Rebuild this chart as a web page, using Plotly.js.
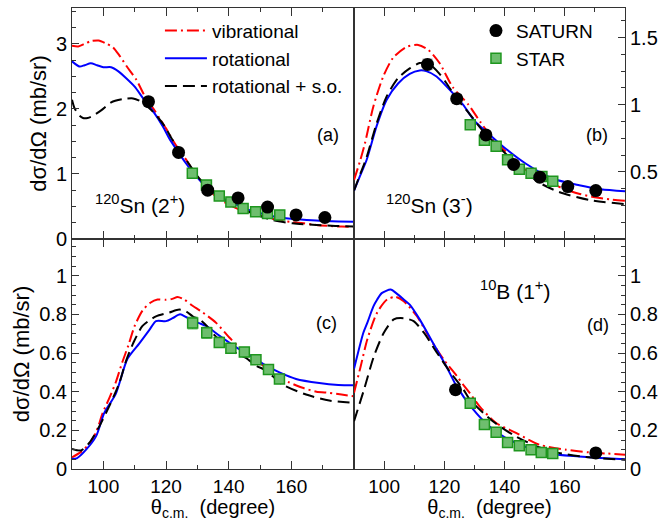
<!DOCTYPE html>
<html>
<head>
<meta charset="utf-8">
<script src="https://cdn.plot.ly/plotly-3.0.1.min.js"></script>
<style>html,body{margin:0;padding:0;background:#fff;}#plot{width:659px;height:521px;}</style>
</head>
<body>
<div id="plot"></div>
<script>
// ---------- Panel (a): 120Sn (2+) ----------
const vibA_th = [90, 92, 94, 96, 98.5, 101, 103, 105, 107.5, 110.5, 113.5, 116, 118, 120, 122, 124, 126.4, 128.5, 130.6, 133, 136, 138.5, 141.3, 144, 147.6, 151, 154, 157, 160.4, 164, 168, 172, 176, 180];
const vibA_v  = [2.97, 2.96, 3.0, 3.04, 3.05, 3.0, 2.95, 2.83, 2.65, 2.45, 2.17, 2.0, 1.85, 1.70, 1.53, 1.38, 1.22, 1.06, 0.92, 0.79, 0.65, 0.57, 0.50, 0.44, 0.39, 0.35, 0.31, 0.28, 0.26, 0.24, 0.215, 0.2, 0.19, 0.185];
const rotA_th = [90, 92.4, 94, 96, 98, 100, 102.5, 104.7, 107.3, 110, 112.7, 115.9, 119, 121, 123, 126.4, 129, 132.8, 136, 141.3, 145, 149.8, 154, 158.3, 163, 169, 175, 180];
const rotA_v  = [2.73, 2.65, 2.67, 2.70, 2.67, 2.64, 2.64, 2.58, 2.47, 2.34, 2.16, 1.96, 1.73, 1.55, 1.40, 1.16, 1.0, 0.80, 0.68, 0.55, 0.47, 0.40, 0.35, 0.32, 0.30, 0.28, 0.27, 0.265];
const soA_th  = [90, 90.8, 92.3, 93.5, 95, 96.2, 99.4, 102.5, 106.3, 109.5, 112.1, 115.3, 117.9, 119.6, 122.1, 126.4, 130.6, 136, 141.3, 147.6, 154, 160.4, 167.9, 174, 180];
const soA_v   = [2.14, 2.01, 1.90, 1.86, 1.86, 1.88, 1.98, 2.10, 2.15, 2.16, 2.11, 1.98, 1.84, 1.73, 1.52, 1.22, 0.93, 0.68, 0.52, 0.395, 0.29, 0.24, 0.215, 0.2, 0.19];
const satA_th = [114.4, 124.0, 133.3, 143.0, 152.4, 161.5, 170.7];
const satA_v  = [2.11, 1.33, 0.75, 0.63, 0.49, 0.37, 0.33];
const starA_th = [128.4, 132.9, 137.0, 140.7, 144.6, 148.6, 152.4, 156.3];
const starA_v  = [1.01, 0.83, 0.66, 0.57, 0.47, 0.42, 0.39, 0.37];

// ---------- Panel (b): 120Sn (3-) ----------
const vibB_th = [90, 92, 93.6, 96.4, 99.7, 103, 107.4, 111.3, 114.6, 118.4, 122.8, 128, 132, 136, 140, 144, 148, 152, 156, 160, 165, 170, 175, 180];
const vibB_v  = [0.44, 0.58, 0.71, 0.985, 1.21, 1.35, 1.43, 1.445, 1.41, 1.31, 1.13, 1.0, 0.87, 0.75, 0.66, 0.57, 0.50, 0.45, 0.41, 0.37, 0.335, 0.31, 0.295, 0.285];
const rotB_th = [90, 92, 94.2, 97.5, 100.8, 104.7, 108.5, 111.8, 114, 117.4, 121.8, 126.2, 130, 133.9, 140.5, 147.1, 155.9, 164.8, 172, 180];
const rotB_v  = [0.36, 0.47, 0.59, 0.84, 1.035, 1.16, 1.23, 1.255, 1.25, 1.21, 1.11, 1.0, 0.88, 0.80, 0.67, 0.56, 0.45, 0.40, 0.37, 0.355];
const soB_th  = [90, 92, 94.2, 97.5, 100.8, 104.7, 108.5, 111.8, 115.1, 118.4, 120.7, 124, 128.4, 133, 138.3, 144.9, 151.5, 158.1, 168.1, 180];
const soB_v   = [0.36, 0.48, 0.61, 0.86, 1.06, 1.20, 1.27, 1.31, 1.30, 1.23, 1.16, 1.05, 0.93, 0.80, 0.68, 0.54, 0.42, 0.35, 0.29, 0.26];
const satB_th = [114.4, 124.1, 133.8, 143.0, 151.7, 161.0, 170.3];
const satB_v  = [1.30, 1.045, 0.775, 0.555, 0.46, 0.39, 0.36];
const starB_th = [128.6, 133.3, 137.2, 141.0, 144.9, 148.8, 152.4, 156.0];
const starB_v  = [0.85, 0.735, 0.69, 0.59, 0.52, 0.49, 0.465, 0.43];

// ---------- Panel (c) ----------
const vibC_th = [90, 93, 95.5, 97.7, 99.8, 102, 104, 106, 108, 110, 112.5, 115, 117.3, 120, 122, 123.7, 125.8, 128, 131.7, 136, 140.2, 144, 148.7, 152, 155.1, 159, 163.6, 168, 172.1, 176, 180];
const vibC_v  = [0.06, 0.09, 0.13, 0.19, 0.29, 0.37, 0.45, 0.55, 0.64, 0.74, 0.82, 0.86, 0.877, 0.875, 0.88, 0.89, 0.877, 0.85, 0.81, 0.756, 0.68, 0.62, 0.566, 0.52, 0.48, 0.45, 0.42, 0.40, 0.394, 0.385, 0.376];
const rotC_th = [90, 91.5, 94.5, 97.7, 100.3, 104, 107.7, 111.5, 114.7, 116.8, 120, 122.1, 124.5, 126.5, 128.5, 130.5, 132.8, 137, 142.3, 146.6, 151.4, 156.2, 161.5, 168.9, 175, 180];
const rotC_v  = [0.052, 0.055, 0.10, 0.17, 0.29, 0.39, 0.57, 0.65, 0.72, 0.765, 0.765, 0.78, 0.80, 0.785, 0.77, 0.755, 0.74, 0.69, 0.63, 0.59, 0.54, 0.50, 0.466, 0.445, 0.435, 0.433];
const soC_th  = [90, 92.9, 95.5, 98.7, 101.9, 105.1, 107.2, 109.5, 112.5, 116.8, 121.1, 124.2, 126.4, 128.5, 131, 133, 135, 137, 140.2, 142.3, 145.5, 148.7, 151.9, 157.2, 164.7, 172.1, 180];
const soC_v   = [0.104, 0.096, 0.135, 0.22, 0.325, 0.445, 0.557, 0.65, 0.74, 0.79, 0.81, 0.825, 0.815, 0.79, 0.77, 0.74, 0.70, 0.67, 0.64, 0.60, 0.575, 0.535, 0.51, 0.437, 0.385, 0.354, 0.342];
const starC_th = [128.5, 133.0, 137.0, 140.7, 145.0, 148.7, 152.7, 156.2];
const starC_v  = [0.755, 0.705, 0.655, 0.625, 0.605, 0.565, 0.515, 0.465];

// ---------- Panel (d): 10B (1+) ----------
const vibD_th = [90, 92.2, 94.4, 97.7, 101, 103.8, 106.5, 110.9, 115.4, 119.8, 124.2, 126.2, 128.6, 131.7, 137.2, 143.8, 151.5, 160.4, 168.1, 174, 180];
const vibD_v  = [0.394, 0.53, 0.67, 0.81, 0.877, 0.89, 0.868, 0.79, 0.67, 0.566, 0.48, 0.437, 0.39, 0.324, 0.238, 0.187, 0.126, 0.10, 0.086, 0.08, 0.074];
const rotD_th = [90, 93.1, 94.4, 96.4, 97.7, 99.2, 102.2, 104, 106.5, 108.5, 111.8, 116.2, 120.7, 124, 129.5, 135, 140.5, 147.1, 154.8, 164.8, 172, 180];
const rotD_v  = [0.518, 0.705, 0.756, 0.84, 0.877, 0.91, 0.928, 0.91, 0.877, 0.85, 0.774, 0.653, 0.53, 0.43, 0.31, 0.22, 0.16, 0.114, 0.079, 0.065, 0.057, 0.05];
const soD_th  = [90, 93.3, 96.6, 99.9, 103.2, 106.5, 109.8, 113.2, 117.6, 122, 126.4, 128.4, 136.1, 142.7, 149.3, 157, 167, 180];
const soD_v   = [0.247, 0.41, 0.583, 0.705, 0.774, 0.78, 0.765, 0.705, 0.60, 0.50, 0.41, 0.36, 0.247, 0.178, 0.126, 0.086, 0.062, 0.048];
const satD_th = [123.7, 170.3];
const satD_v  = [0.41, 0.083];
const starD_th = [128.6, 133.3, 137.2, 141.0, 144.9, 148.8, 152.2, 156.0];
const starD_v  = [0.34, 0.23, 0.19, 0.137, 0.12, 0.10, 0.085, 0.08];

const legendNames = ['vibrational', 'rotational', 'rotational + s.o.', 'SATURN', 'STAR'];
const xTicks = [100, 120, 140, 160];

const FONT = 'Liberation Sans, Arial, Helvetica, sans-serif';
const RED = 'rgb(255,0,0)', BLUE = 'rgb(0,0,255)', BLACK = 'rgb(0,0,0)';
const lineStyles = [
  {color: RED, width: 2, dash: '12px,4px,2px,4px'},
  {color: BLUE, width: 2, dash: 'solid'},
  {color: BLACK, width: 2, dash: '12px,6px'}
];

function curves(ax, ay, sets, showLeg) {
  return sets.map((s, i) => ({
    type: 'scatter', mode: 'lines', x: s[0], y: s[1], xaxis: ax, yaxis: ay,
    line: Object.assign({shape: 'spline', smoothing: 0.7}, lineStyles[i]),
    name: legendNames[i], showlegend: showLeg, legend: 'legend', hoverinfo: 'skip'
  }));
}
function saturn(ax, ay, th, v, showLeg) {
  return {type: 'scatter', mode: 'markers', x: th, y: v, xaxis: ax, yaxis: ay,
    marker: {symbol: 'circle', size: 13, color: BLACK},
    error_y: {type: 'percent', value: 3, color: 'rgb(120,120,120)', thickness: 1, width: 5},
    name: legendNames[3], showlegend: showLeg, legend: 'legend2'};
}
function star(ax, ay, th, v, showLeg) {
  return {type: 'scatter', mode: 'markers', x: th, y: v, xaxis: ax, yaxis: ay,
    marker: {symbol: 'square', size: 10, color: 'rgb(110,190,110)', line: {color: 'rgb(30,150,30)', width: 1.5}},
    error_y: {type: 'percent', value: 4, color: 'rgb(60,170,60)', thickness: 1, width: 5},
    name: legendNames[4], showlegend: showLeg, legend: 'legend2'};
}

const data = [].concat(
  curves('x', 'y', [[vibA_th, vibA_v], [rotA_th, rotA_v], [soA_th, soA_v]], true),
  curves('x2', 'y2', [[vibB_th, vibB_v], [rotB_th, rotB_v], [soB_th, soB_v]], false),
  curves('x3', 'y3', [[vibC_th, vibC_v], [rotC_th, rotC_v], [soC_th, soC_v]], false),
  curves('x4', 'y4', [[vibD_th, vibD_v], [rotD_th, rotD_v], [soD_th, soD_v]], false),
  [star('x', 'y', starA_th, starA_v, false), saturn('x', 'y', satA_th, satA_v, false),
   star('x2', 'y2', starB_th, starB_v, false), saturn('x2', 'y2', satB_th, satB_v, true),
   star('x3', 'y3', starC_th, starC_v, false),
   star('x4', 'y4', starD_th, starD_v, false), saturn('x4', 'y4', satD_th, satD_v, false),
   star('x2', 'y2', [null], [null], true)]
);

const AX = '#333';
function xax(domain, anchor, labels) {
  return {domain: domain, anchor: anchor, range: [90, 180], tickmode: 'array', tickvals: xTicks,
    showticklabels: labels, ticks: 'inside', ticklen: 8, tickcolor: AX, mirror: 'ticks',
    showline: true, linecolor: AX, linewidth: 1, showgrid: false, zeroline: false,
    minor: {tickmode: 'array', tickvals: [110, 130, 150, 170], ticks: 'inside', ticklen: 4, tickcolor: AX},
    tickfont: {family: FONT, size: 19, color: '#000'},
    title: labels ? {text: 'θ<sub>c.m.</sub>  (degree)', font: {family: FONT, size: 20, color: '#000'}, standoff: 3} : {text: ''}};
}
function yax(domain, anchor, range, side, tickopts, minorDt, title) {
  return Object.assign({domain: domain, anchor: anchor, range: range, side: side,
    ticks: 'inside', ticklen: 7, tickcolor: AX, mirror: true, showline: true, linecolor: AX, linewidth: 1,
    showgrid: false, zeroline: false,
    minor: {dtick: minorDt, tick0: 0, ticks: 'inside', ticklen: 4, tickcolor: AX},
    tickfont: {family: FONT, size: 20, color: '#000'},
    title: title ? {text: title, font: {family: FONT, size: 22, color: '#000'}, standoff: 3} : {text: ''}}, tickopts);
}

const YT = 'dσ/dΩ (mb/sr)';
const ann = (text, xr, yr, x, y, size) => ({text: text, xref: xr, yref: yr, x: x, y: y,
  xanchor: 'center', yanchor: 'middle', showarrow: false, font: {family: FONT, size: size, color: '#000'}});
const layout = {
  width: 659, height: 521,
  margin: {l: 72, r: 34, t: 8, b: 52},
  paper_bgcolor: '#fff', plot_bgcolor: '#fff',
  font: {family: FONT, size: 20, color: '#000'},
  xaxis: xax([0, 0.51], 'y', false),
  xaxis2: xax([0.51, 1], 'y2', false),
  xaxis3: xax([0, 0.51], 'y3', true),
  xaxis4: xax([0.51, 1], 'y4', true),
  yaxis: yax([0.499, 1], 'x', [0, 3.55], 'left', {tickmode: 'array', tickvals: [0, 1, 2, 3]}, 0.25, YT),
  yaxis2: yax([0.499, 1], 'x2', [0, 1.72], 'right', {tickmode: 'array', tickvals: [0.5, 1, 1.5]}, 0.125, null),
  yaxis3: yax([0, 0.499], 'x3', [0, 1.19], 'left', {dtick: 0.2, tick0: 0}, 0.05, YT),
  yaxis4: yax([0, 0.499], 'x4', [0, 1.19], 'right', {dtick: 0.2, tick0: 0}, 0.05, null),
  showlegend: true,
  legend: {x: 0.159, y: 0.992, xanchor: 'left', yanchor: 'top', bgcolor: 'rgba(0,0,0,0)',
    font: {family: FONT, size: 19, color: '#000'}, traceorder: 'normal', itemwidth: 42},
  legend2: {x: 0.7305, y: 0.992, xanchor: 'left', yanchor: 'top', bgcolor: 'rgba(0,0,0,0)',
    font: {family: FONT, size: 19, color: '#000'}, traceorder: 'normal', itemwidth: 30},
  annotations: [
    ann('(a)', 'x domain', 'y domain', 0.908, 0.45, 18),
    ann('(b)', 'x2 domain', 'y2 domain', 0.897, 0.45, 18),
    ann('(c)', 'x3 domain', 'y3 domain', 0.904, 0.635, 18),
    ann('(d)', 'x4 domain', 'y4 domain', 0.90, 0.626, 18),
    ann('<sup>120</sup>Sn (2<sup>+</sup>)', 'x domain', 'y domain', 0.241, 0.15, 21),
    ann('<sup>120</sup>Sn (3<sup>-</sup>)', 'x2 domain', 'y2 domain', 0.28, 0.15, 21),
    ann('<sup>10</sup>B (1<sup>+</sup>)', 'x4 domain', 'y4 domain', 0.594, 0.78, 21)
  ]
};

Plotly.newPlot('plot', data, layout, {displayModeBar: false, staticPlot: true});
</script>
</body>
</html>
